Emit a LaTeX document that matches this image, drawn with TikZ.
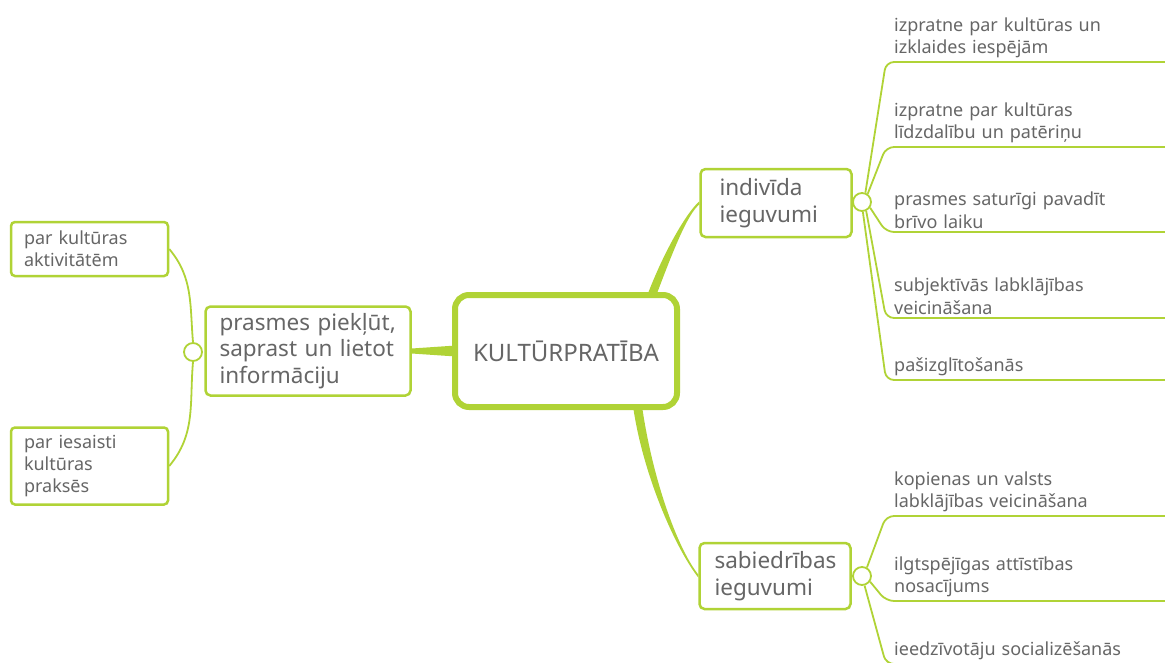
\documentclass[tikz,border=0pt]{standalone}
\usepackage{fontspec}
\setmainfont{Noto Sans}
\usetikzlibrary{calc,backgrounds}
\definecolor{lime}{RGB}{176,211,54}
\definecolor{ink}{RGB}{102,102,102}

\begin{document}
\begin{tikzpicture}[x=1pt,y=1pt,
    core/.style={draw=lime, line width=6pt, rounded corners=14pt, fill=white, text=ink,
        minimum width=222pt, minimum height=112pt, font=\fontsize{24}{28}\selectfont},
    mid/.style={draw=lime, line width=2.5pt, rounded corners=5pt, fill=white, text=ink,
        align=left, inner xsep=18pt, font=\fontsize{22.5}{26.5}\selectfont},
    box/.style={draw=lime, line width=2.5pt, rounded corners=4pt, fill=white, text=ink,
        align=left, inner xsep=13pt, text width=131pt, font=\fontsize{18}{22}\selectfont},
    leaf/.style={anchor=south west, text=ink, align=left, text width=280pt,
        inner xsep=8pt, inner ysep=3.5pt, font=\fontsize{18}{22.5}\selectfont},
    knob/.style={circle, draw=lime, line width=1.8pt, fill=white, minimum size=18pt, inner sep=0pt},
    twig/.style={draw=lime, line width=1.8pt, rounded corners=8pt},
    twist/.style={draw=lime, line width=1.8pt}]
            \useasboundingbox (0,0) rectangle (1165,-662);
            \node[core] (kp) at (566,-351) {KULTŪRPRATĪBA};
            \node[mid, text width=177pt, inner xsep=14pt, minimum height=89pt] (pr) at (308,-351) {prasmes piekļūt,\\saprast un lietot\\informāciju};
            \node[mid, text width=113pt, inner xsep=19pt, minimum height=68pt] (ind) at (776,-203) {indivīda\\ieguvumi};
            \node[mid, text width=121pt, inner xsep=15pt, minimum height=66pt] (sab) at (775,-576) {sabiedrības\\ieguvumi};
            \node[box, minimum height=54pt] (pa) at (89.5,-249) {par kultūras\\aktivitātēm};
            \node[box, minimum height=77pt] (pb) at (89.5,-466) {par iesaisti\\kultūras\\praksēs};
            \node[knob] (kpr) at (193,-352) {};
            \node[knob] (kind) at (862,-202) {};
            \node[knob] (ksab) at (862,-576) {};
            \node[leaf] (i1) at (886,-62) {izpratne par kultūras un\\izklaides iespējām};
            \node[leaf] (i2) at (886,-147) {izpratne par kultūras\\līdzdalību un patēriņu};
            \node[leaf] (i3) at (886,-232) {prasmes saturīgi pavadīt\\brīvo laiku};
            \node[leaf] (i4) at (886,-318) {subjektīvās labklājības\\veicināšana};
            \node[leaf] (i5) at (886,-380) {pašizglītošanās};
            \node[leaf] (s1) at (886,-516) {kopienas un valsts\\labklājības veicināšana};
            \node[leaf] (s2) at (886,-601) {ilgtspējīgas attīstības\\nosacījums};
            \node[leaf] (s3) at (886,-664) {ieedzīvotāju socializēšanās};
            \begin{scope}[on background layer]
            \fill[lime] ($(kp.west)+(4,5.5)$) -- ($(pr.east)+(0,2.5)$) -- ($(pr.east)+(0,-2.5)$) -- ($(kp.west)+(4,-5.5)$) -- cycle;
            \fill[lime] ($(kp.north)+(81,-4)$) .. controls +(17,45) and +(-12,-10) .. ($(ind.west)+(0,1.5)$)
                -- ($(ind.west)+(0,-1.5)$) .. controls +(-12,-10) and +(17,45) .. ($(kp.north)+(90,-4)$) -- cycle;
            \fill[lime] ($(kp.south)+(67,4)$) .. controls +(10,-70) and +(-22,28) .. ($(sab.west)+(0,-1.5)$)
                -- ($(sab.west)+(0,1.5)$) .. controls +(-22,28) and +(10,-70) .. ($(kp.south)+(76,4)$) -- cycle;
            \draw[twist] (kpr.north) to[out=95, in=-50] (pa.east);
            \draw[twist] (kpr.south) to[out=-95, in=50] (pb.east);
            \draw[twig] (kind.70) -- (i1.south west) -- (i1.south east);
            \draw[twig] (kind.55) -- (i2.south west) -- (i2.south east);
            \draw[twig] (kind.-35) -- (i3.south west) -- (i3.south east);
            \draw[twig] (kind.-65) -- (i4.south west) -- (i4.south east);
            \draw[twig] (kind.-85) -- (i5.south west) -- (i5.south east);
            \draw[twig] (ksab.60) -- (s1.south west) -- (s1.south east);
            \draw[twig] (ksab.-35) -- (s2.south west) -- (s2.south east);
            \draw[twig] (ksab.-75) -- (s3.south west) -- (s3.south east);
            \end{scope}
        \end{tikzpicture}
\end{document}
